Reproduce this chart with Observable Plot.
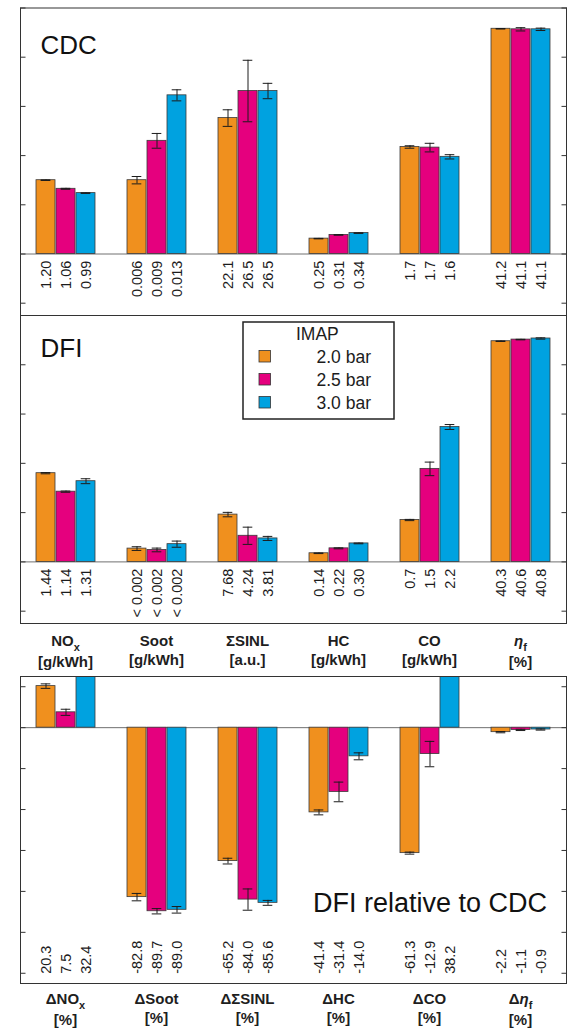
<!DOCTYPE html>
<html>
<head>
<meta charset="utf-8">
<script src="https://cdn.jsdelivr.net/npm/d3@7"></script>
<script src="https://cdn.jsdelivr.net/npm/@observablehq/plot@0.6"></script>
<style>
  body { margin: 0; background: #fff; font-family: "Liberation Sans", Arial, sans-serif; overflow: hidden; }
  #wrap { position: relative; width: 567px; }
  #wrap svg { display: block; }
  .cats { display: grid; grid-template-columns: repeat(6, 91px); margin-left: 20px; width: 546px;
          box-sizing: border-box; font-weight: bold; font-size: 15px;
          line-height: 19px; text-align: center; color: #1e1e1e; overflow: visible; }
  .cats .sub { font-size: 11px; position: relative; top: 5px; }
  .cats .gr { font-style: italic; }
</style>
</head>
<body>
<div id="wrap"></div>
<script>
// ---------- data ----------
const categories = ["NOx", "Soot", "ΣSINL", "HC", "CO", "ηf"];
const series = ["2.0 bar", "2.5 bar", "3.0 bar"];
const colors = ["#F0901E", "#E5007E", "#00A2E0"];
// physical value represented by one tick interval, per category
const unitPerTick = [0.8, 0.004, 8, 0.8, 0.8, 9];

// category label parts
const catNames = ["NO", "Soot", "ΣSINL", "HC", "CO", "η"];
const catSubs = ["x", "", "", "", "", "f"];
const catUnits = ["[g/kWh]", "[g/kWh]", "[a.u.]", "[g/kWh]", "[g/kWh]", "[%]"];
const deltaUnits = ["[%]", "[%]", "[%]", "[%]", "[%]", "[%]"];

// CDC
const cdcValues = [
  [1.20, 1.06, 0.99],
  [0.0060, 0.0092, 0.0129],
  [22.1, 26.5, 26.5],
  [0.25, 0.31, 0.34],
  [1.74, 1.73, 1.58],
  [41.2, 41.1, 41.1]
];
const cdcErrors = [
  [0.005, 0.008, 0.005],
  [0.0003, 0.0006, 0.00045],
  [1.35, 5.0, 1.25],
  [0.004, 0.005, 0.005],
  [0.02, 0.07, 0.035],
  [0.05, 0.3, 0.22]
];
const cdcLabels = [
  ["1.20", "1.06", "0.99"],
  ["0.006", "0.009", "0.013"],
  ["22.1", "26.5", "26.5"],
  ["0.25", "0.31", "0.34"],
  ["1.7", "1.7", "1.6"],
  ["41.2", "41.1", "41.1"]
];

// DFI
const dfiValues = [
  [1.44, 1.14, 1.31],
  [0.00108, 0.00097, 0.00144],
  [7.68, 4.24, 3.81],
  [0.14, 0.22, 0.30],
  [0.68, 1.51, 2.19],
  [40.3, 40.6, 40.8]
];
const dfiErrors = [
  [0.01, 0.01, 0.04],
  [0.00015, 0.00015, 0.00025],
  [0.36, 1.4, 0.33],
  [0.005, 0.008, 0.006],
  [0.01, 0.11, 0.04],
  [0.05, 0.05, 0.12]
];
const dfiLabels = [
  ["1.44", "1.14", "1.31"],
  ["< 0.002", "< 0.002", "< 0.002"],
  ["7.68", "4.24", "3.81"],
  ["0.14", "0.22", "0.30"],
  ["0.7", "1.5", "2.2"],
  ["40.3", "40.6", "40.8"]
];

// DFI relative to CDC [%]
const relValues = [
  [20.3, 7.5, 32.4],
  [-82.8, -89.7, -89.0],
  [-65.2, -84.0, -85.6],
  [-41.4, -31.4, -14.0],
  [-61.3, -12.9, 38.2],
  [-2.2, -1.1, -0.9]
];
const relErrors = [
  [1.1, 1.5, 1.5],
  [1.8, 1.3, 1.6],
  [1.4, 5.2, 1.2],
  [1.2, 4.8, 1.7],
  [0.5, 6.2, 1.0],
  [0.3, 0.3, 0.3]
];
const relLabels = [
  ["20.3", "7.5", "32.4"],
  ["-82.8", "-89.7", "-89.0"],
  ["-65.2", "-84.0", "-85.6"],
  ["-41.4", "-31.4", "-14.0"],
  ["-61.3", "-12.9", "38.2"],
  ["-2.2", "-1.1", "-0.9"]
];

const absTicks = [-1, 0, 1, 2, 3, 4, 5];
const relTicks = [-120, -100, -80, -60, -40, -20, 0, 20];

// ---------- helpers ----------
function table(values, errors, labels, scales) {
  return categories.flatMap((cat, i) => series.map((s, j) => ({
    cat, series: s, scale: scales ? scales[i] : 1,
    value: values[i][j], err: errors[i][j], label: labels[i][j]
  })));
}

const FONT = "'Liberation Sans', Arial, Helvetica, sans-serif";
const INK = "#1c1c1c";

function barMarks(data, ticks) {
  const y = d => d.value / d.scale;
  const lo = d => (d.value - d.err) / d.scale;
  const hi = d => (d.value + d.err) / d.scale;
  return [
    Plot.ruleY([0], {stroke: "#707070", strokeWidth: 1}),
    Plot.barY(data, {fx: "cat", x: "series", y, fill: "series", stroke: "#3a3a3a", strokeWidth: 0.8, clip: true}),
    Plot.ruleX(data, {fx: "cat", x: "series", y1: lo, y2: hi, stroke: INK, strokeWidth: 1, clip: true}),
    Plot.tickY(data, {fx: "cat", x: "series", y: hi, insetLeft: 4.7, insetRight: 4.7, stroke: INK, strokeWidth: 1, clip: true}),
    Plot.tickY(data, {fx: "cat", x: "series", y: lo, insetLeft: 4.7, insetRight: 4.7, stroke: INK, strokeWidth: 1, clip: true}),
    Plot.axisY(ticks, {anchor: "left", tickSize: -5.5, tickFormat: () => "", label: null, stroke: "#333"}),
    Plot.axisY(ticks, {anchor: "right", tickSize: -5.5, tickFormat: () => "", label: null, stroke: "#333"}),
    Plot.frame({facet: "super", stroke: "#333", strokeWidth: 1})
  ];
}

function basePlot(opts) {
  return {
    width: 567,
    marginLeft: 20,
    marginRight: 1,
    style: {fontFamily: FONT, color: INK, background: "transparent", overflow: "visible"},
    fx: {domain: categories, padding: 0, axis: null},
    x: {domain: series, paddingInner: 0.075, paddingOuter: 0.81, axis: null},
    color: {domain: series, range: colors},
    ...opts
  };
}

const wrap = document.getElementById("wrap");

// ---------- CDC ----------
const cdc = table(cdcValues, cdcErrors, cdcLabels, unitPerTick);
const plotA = Plot.plot(basePlot({
  height: 316, marginTop: 7.5, marginBottom: 1,
  y: {domain: [-1.25, 5]},
  marks: [
    ...barMarks(cdc, absTicks),
    Plot.text(cdc, {fx: "cat", x: "series", y: () => 0, text: "label", rotate: -90,
      textAnchor: "end", lineAnchor: "middle", dy: 6.7, fontSize: 14.5, fill: INK}),
    Plot.text(["CDC"], {facet: "super", frameAnchor: "top-left", textAnchor: "start", lineAnchor: "top",
      dx: 20, dy: 27.5, fontSize: 26, fill: "#111"})
  ]
}));
wrap.appendChild(plotA);

// ---------- DFI ----------
const dfi = table(dfiValues, dfiErrors, dfiLabels, unitPerTick);
const plotB = Plot.plot(basePlot({
  height: 310, marginTop: 1, marginBottom: 1,
  y: {domain: [-1.25, 5]},
  marks: [
    ...barMarks(dfi, absTicks),
    Plot.text(dfi, {fx: "cat", x: "series", y: () => 0, text: "label", rotate: -90,
      textAnchor: "end", lineAnchor: "middle", dy: 6.7, fontSize: 14.5, fill: INK}),
    Plot.text(["DFI"], {facet: "super", frameAnchor: "top-left", textAnchor: "start", lineAnchor: "top",
      dx: 20, dy: 23.3, fontSize: 26, fill: "#111"})
  ]
}));
plotB.style.marginTop = "-2px";
wrap.appendChild(plotB);

// legend (IMAP)
const legend = d3.create("svg")
  .attr("width", 154).attr("height", 100)
  .style("position", "absolute").style("left", "242px").style("top", "321px")
  .style("font-family", FONT);
legend.append("rect").attr("x", 1).attr("y", 1).attr("width", 151).attr("height", 97)
  .attr("fill", "white").attr("stroke", "#222").attr("stroke-width", 1.5);
legend.append("text").attr("x", 54).attr("y", 19).attr("font-size", 17.5).attr("fill", INK).text("IMAP");
series.forEach((s, i) => {
  legend.append("rect").attr("x", 17).attr("y", 29.5 + i * 23).attr("width", 11.5).attr("height", 11.5)
    .attr("fill", colors[i]).attr("stroke", "#333").attr("stroke-width", 0.8);
  legend.append("text").attr("x", 74.5).attr("y", 42.3 + i * 23).attr("font-size", 17.5).attr("fill", INK).text(s);
});
wrap.appendChild(legend.node());

// category labels
function catBlock(prefix, units, height, padTop) {
  const div = document.createElement("div");
  div.className = "cats";
  div.style.height = height + "px";
  div.style.paddingTop = padTop + "px";
  catNames.forEach((n, i) => {
    const cell = document.createElement("div");
    const name = n === "η" ? `<span class="gr">${n}</span>` : n;
    const sub = catSubs[i] ? `<span class="sub">${catSubs[i]}</span>` : "";
    cell.innerHTML = `${prefix}${name}${sub}<br>${units[i]}`;
    div.appendChild(cell);
  });
  return div;
}
wrap.appendChild(catBlock("", catUnits, 51, 6.5));

// ---------- relative ----------
const rel = table(relValues, relErrors, relLabels, null);
const plotC = Plot.plot(basePlot({
  height: 309, marginTop: 1, marginBottom: 1,
  y: {domain: [-125, 25]},
  marks: [
    ...barMarks(rel, relTicks),
    Plot.text(rel, {fx: "cat", x: "series", frameAnchor: "bottom", text: "label", rotate: -90,
      textAnchor: "start", lineAnchor: "middle", dy: -9.7, fontSize: 14.5, fill: INK}),
    Plot.text(["DFI relative to CDC"], {facet: "super", frameAnchor: "top-right", textAnchor: "end", lineAnchor: "top",
      dx: -19.5, dy: 216, fontSize: 27, fill: "#111"})
  ]
}));
wrap.appendChild(plotC);

wrap.appendChild(catBlock("Δ", deltaUnits, 44, 5));
</script>
</body>
</html>
